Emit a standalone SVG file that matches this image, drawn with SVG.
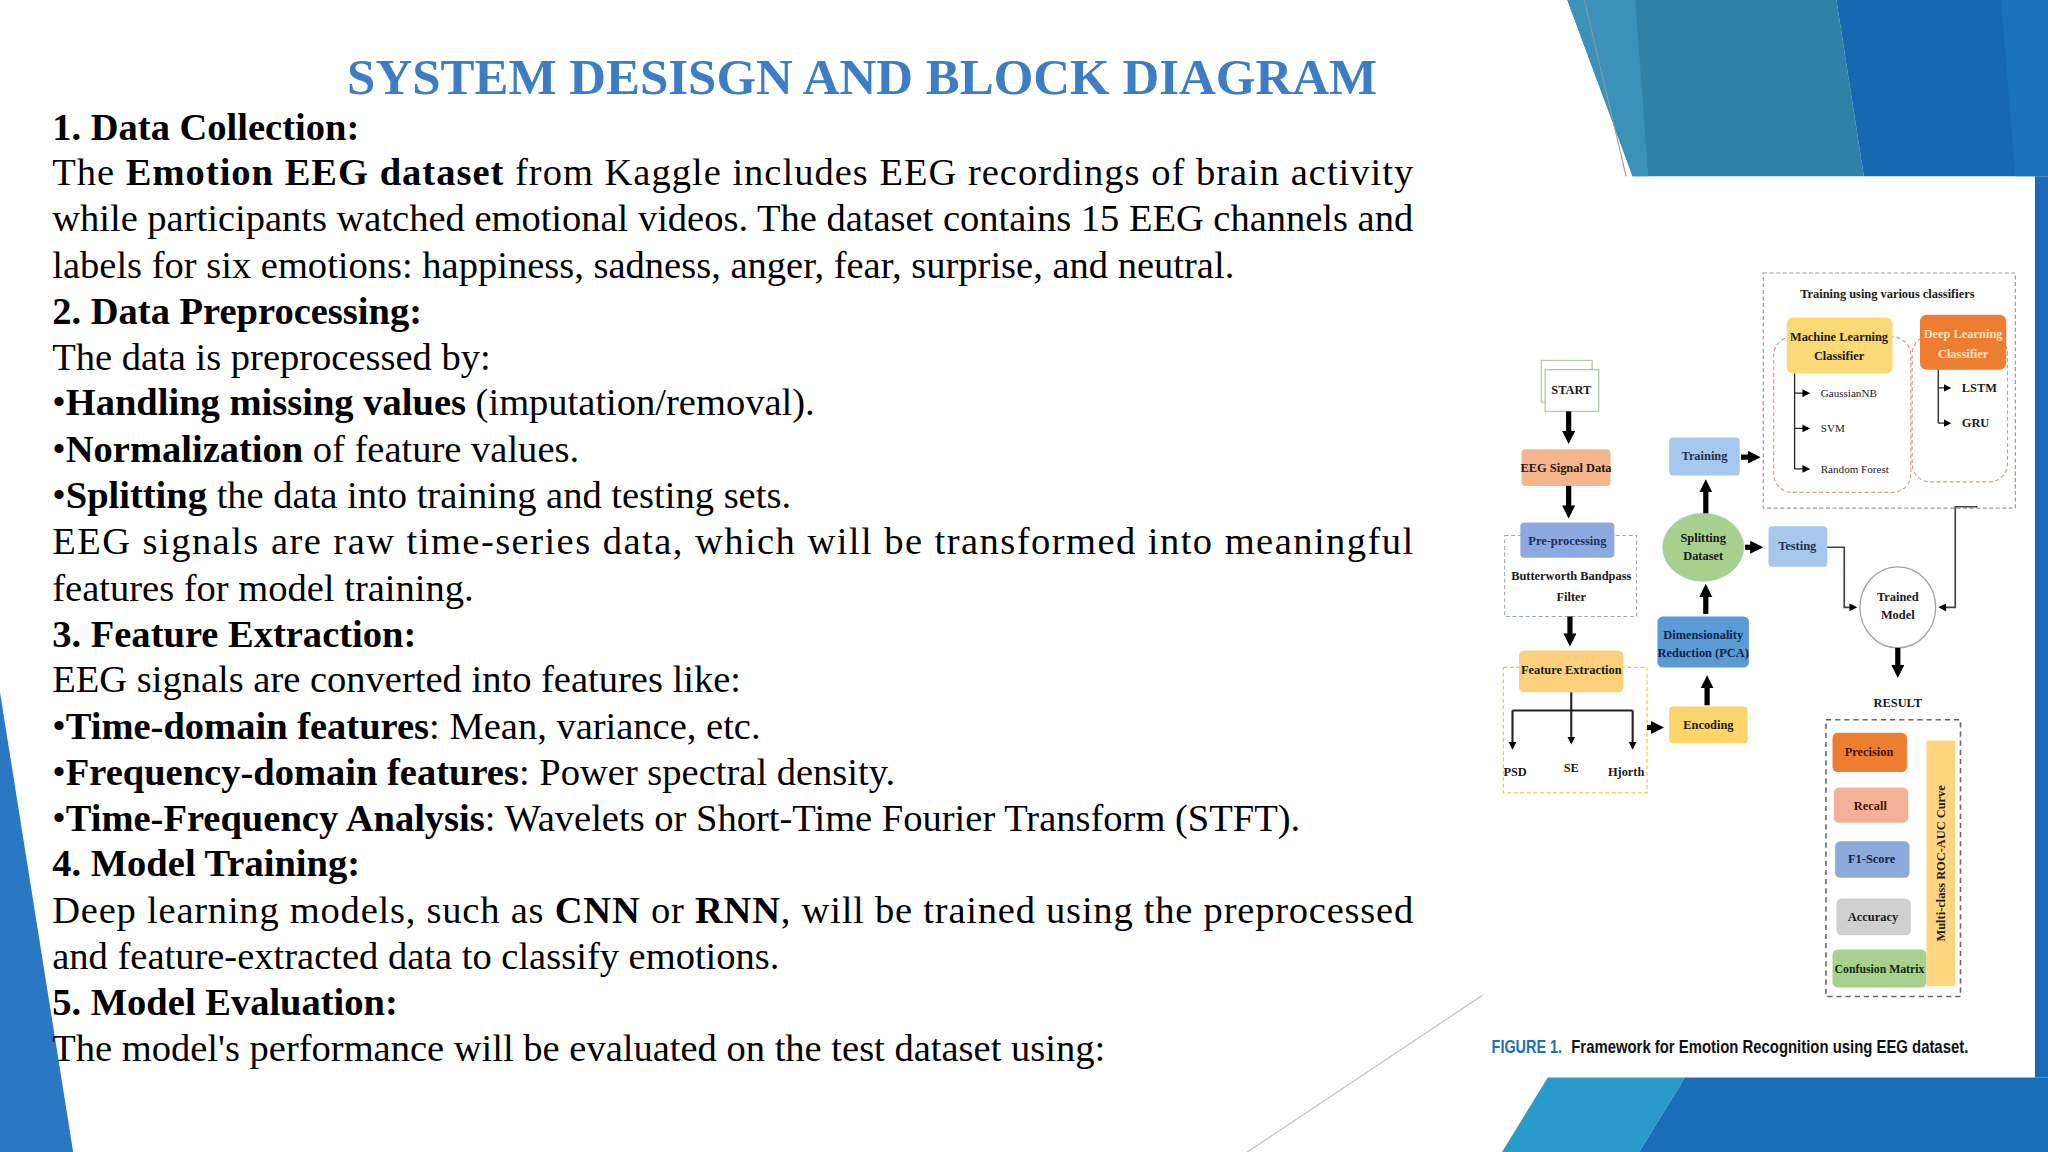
<svg xmlns="http://www.w3.org/2000/svg" width="2048" height="1152" viewBox="0 0 2048 1152">
<style>
.body{font-family:"Liberation Serif",serif;font-size:29.5px;fill:#000}
.b{font-weight:bold}
.d{font-family:"Liberation Serif",serif;font-weight:bold;font-size:9.5px;fill:#1a1a1a;text-anchor:middle}
.dl{font-family:"Liberation Serif",serif;font-size:8.5px;fill:#1a1a1a}
.thick{stroke:#000;stroke-width:4;fill:none}
.thin{stroke:#444;stroke-width:1.3;fill:none}
</style>
<defs>
<marker id="big" markerUnits="userSpaceOnUse" markerWidth="12" markerHeight="12" refX="5" refY="5" orient="auto"><path d="M0,0 L10,5 L0,10 Z" fill="#000"/></marker>
<marker id="sm" markerUnits="userSpaceOnUse" markerWidth="8" markerHeight="8" refX="4" refY="3" orient="auto"><path d="M0,0 L6,3 L0,6 Z" fill="#000"/></marker>
</defs>
<g transform="scale(1.30612)">
<rect width="1568" height="882" fill="#fff"/>
<g id="decor">
<polygon points="1200,0 1406,0 1427,135 1250,135" fill="#2e82a6"/>
<polygon points="1200,0 1252,0 1262,135 1250,135" fill="#3a92b8"/>
<polygon points="1406,0 1568,0 1568,135 1427,135" fill="#1668b0"/>
<polygon points="1532,0 1568,0 1568,135 1543,135" fill="#1d72bc"/>
<line x1="1213" y1="0" x2="1245" y2="135" stroke="#999" stroke-width="0.8"/>
<rect x="1558" y="135" width="10" height="690" fill="#1a6ab8"/>
<polygon points="1185,825 1290,825 1255,882 1150,882" fill="#2a9acb"/>
<polygon points="1290,825 1568,825 1568,882 1255,882" fill="#1a6eb8"/>
<line x1="955" y1="882" x2="1135" y2="762" stroke="#bbb" stroke-width="0.8"/>
<polygon points="0,530 0,882 56,882" fill="#2a77c4"/>
</g>
<text x="660" y="72" text-anchor="middle" font-family="Liberation Serif,serif" font-weight="bold" font-size="39" fill="#3c7dc6">SYSTEM DESISGN AND BLOCK DIAGRAM</text>
<g id="bodytext" class="body">
<text x="40" y="107" class="b">1. Data Collection:</text>
<text x="40" y="142" textLength="1042" lengthAdjust="spacing">The <tspan class="b">Emotion EEG dataset</tspan> from Kaggle includes EEG recordings of brain activity</text>
<text x="40" y="177" textLength="1042" lengthAdjust="spacing">while participants watched emotional videos. The dataset contains 15 EEG channels and</text>
<text x="40" y="213">labels for six emotions: happiness, sadness, anger, fear, surprise, and neutral.</text>
<text x="40" y="248" class="b">2. Data Preprocessing:</text>
<text x="40" y="283">The data is preprocessed by:</text>
<text x="40" y="318">•<tspan class="b">Handling missing values</tspan> (imputation/removal).</text>
<text x="40" y="354">•<tspan class="b">Normalization</tspan> of feature values.</text>
<text x="40" y="389">•<tspan class="b">Splitting</tspan> the data into training and testing sets.</text>
<text x="40" y="424" textLength="1042" lengthAdjust="spacing">EEG signals are raw time-series data, which will be transformed into meaningful</text>
<text x="40" y="460">features for model training.</text>
<text x="40" y="495" class="b">3. Feature Extraction:</text>
<text x="40" y="530">EEG signals are converted into features like:</text>
<text x="40" y="566">•<tspan class="b">Time-domain features</tspan>: Mean, variance, etc.</text>
<text x="40" y="601">•<tspan class="b">Frequency-domain features</tspan>: Power spectral density.</text>
<text x="40" y="636">•<tspan class="b">Time-Frequency Analysis</tspan>: Wavelets or Short-Time Fourier Transform (STFT).</text>
<text x="40" y="671" class="b">4. Model Training:</text>
<text x="40" y="707" textLength="1042" lengthAdjust="spacing">Deep learning models, such as <tspan class="b">CNN</tspan> or <tspan class="b">RNN</tspan>, will be trained using the preprocessed</text>
<text x="40" y="742">and feature-extracted data to classify emotions.</text>
<text x="40" y="777" class="b">5. Model Evaluation:</text>
<text x="40" y="812">The model's performance will be evaluated on the test dataset using:</text>
</g>
<g id="frames" fill="none" stroke-dasharray="3,2">
<rect x="1152" y="410" width="101" height="62" stroke="#9aa" stroke-width="0.8"/>
<rect x="1151" y="511" width="110" height="96" stroke="#e8c84a" stroke-width="0.9"/>
<rect x="1350" y="209" width="193" height="180" stroke="#999" stroke-width="0.9"/>
<rect x="1358" y="258" width="105" height="119" rx="14" stroke="#d89a80" stroke-width="0.9"/>
<rect x="1464" y="257" width="73" height="112" rx="14" stroke="#d89a80" stroke-width="0.9"/>
<rect x="1398" y="551" width="103" height="212" stroke="#666" stroke-width="1.2" stroke-dasharray="4,3"/>
</g>
<text x="1445" y="228" class="d">Training using various classifiers</text>
<g id="start">
<rect x="1180" y="276" width="39" height="32" fill="#fff" stroke="#b5c9a8" stroke-width="1"/>
<rect x="1183" y="283" width="41" height="32" fill="#fff" stroke="#b5c9a8" stroke-width="1"/>
<text x="1203" y="302" class="d">START</text>
</g>
<g id="eeg"><rect x="1165" y="344" width="68" height="28" rx="3" fill="#f6b48c"/><text x="1199" y="361" class="d">EEG Signal Data</text></g>
<g id="pre"><rect x="1164" y="400" width="72" height="27" rx="3" fill="#8ea9e0"/><text x="1200" y="417" class="d" style="fill:#1f2f5f">Pre-processing</text>
<text x="1203" y="444" class="d">Butterworth Bandpass</text><text x="1203" y="460" class="d">Filter</text></g>
<g id="feat"><rect x="1163" y="498" width="80" height="32" rx="4" fill="#fdd07e"/><text x="1203" y="516" class="d">Feature Extraction</text>
<text x="1160" y="594" class="d">PSD</text><text x="1203" y="591" class="d">SE</text><text x="1245" y="594" class="d">Hjorth</text></g>
<g id="enc"><rect x="1278" y="541" width="60" height="28" rx="3" fill="#fdd56a"/><text x="1308" y="558" class="d">Encoding</text></g>
<g id="dim"><rect x="1269" y="472" width="70" height="39" rx="4" fill="#5b9bd5"/><text x="1304" y="489" class="d" style="fill:#10234a">Dimensionality</text><text x="1304" y="503" class="d" style="fill:#10234a">Reduction (PCA)</text></g>
<g id="split"><ellipse cx="1304" cy="419" rx="31" ry="26" fill="#a8d08d" stroke="#9cc" stroke-width="0.6"/><text x="1304" y="415" class="d">Splitting</text><text x="1304" y="429" class="d">Dataset</text></g>
<g id="train"><rect x="1278" y="335" width="54" height="29" rx="3" fill="#a6c8ec"/><text x="1305" y="352" class="d" style="fill:#1f3050">Training</text></g>
<g id="test"><rect x="1354" y="403" width="45" height="31" rx="3" fill="#a6c8ec"/><text x="1376" y="421" class="d" style="fill:#1f3050">Testing</text></g>
<g id="ml"><rect x="1368" y="243" width="81" height="43" rx="5" fill="#fcd977"/><text x="1408" y="261" class="d">Machine Learning</text><text x="1408" y="276" class="d">Classifier</text>
<text x="1394" y="304" class="dl">GaussianNB</text><text x="1394" y="331" class="dl">SVM</text><text x="1394" y="362" class="dl">Random Forest</text></g>
<g id="dl"><rect x="1470" y="241" width="66" height="42" rx="5" fill="#ed7d31"/><text x="1503" y="259" class="d" style="fill:#fde2c4">Deep Learning</text><text x="1503" y="274" class="d" style="fill:#fde2c4">Classifier</text>
<text x="1502" y="300" class="d" style="text-anchor:start">LSTM</text><text x="1502" y="327" class="d" style="text-anchor:start">GRU</text></g>
<g id="trained"><ellipse cx="1453" cy="465" rx="29" ry="31" fill="#fff" stroke="#9a9" stroke-width="1"/><text x="1453" y="460" class="d">Trained</text><text x="1453" y="474" class="d">Model</text></g>
<text x="1453" y="541" class="d">RESULT</text>
<g id="result">
<rect x="1403" y="561" width="57" height="30" rx="4" fill="#ed7d31"/><text x="1431" y="579" class="d" style="fill:#4a1500">Precision</text>
<rect x="1404" y="603" width="57" height="27" rx="4" fill="#f4b19a"/><text x="1432" y="620" class="d" style="fill:#4a1500">Recall</text>
<rect x="1405" y="644" width="57" height="28" rx="4" fill="#8eaadb"/><text x="1433" y="661" class="d" style="fill:#10234a">F1-Score</text>
<rect x="1406" y="688" width="57" height="28" rx="4" fill="#d0d0d0"/><text x="1434" y="705" class="d">Accuracy</text>
<rect x="1403" y="727" width="72" height="29" rx="4" fill="#a9d18e"/><text x="1439" y="745" class="d" style="fill:#0f2d0f;font-size:9px">Confusion Matrix</text>
<rect x="1475" y="567" width="22" height="188" fill="#ffd580"/>
<text x="0" y="0" class="d" transform="translate(1489,661) rotate(-90)">Multi-class ROC-AUC Curve</text>
</g>
<g id="connectors">
<line x1="1201" y1="315" x2="1201" y2="335" class="thick" marker-end="url(#big)"/>
<line x1="1201" y1="372" x2="1201" y2="392" class="thick" marker-end="url(#big)"/>
<line x1="1202" y1="472" x2="1202" y2="490" class="thick" marker-end="url(#big)"/>
<line x1="1261" y1="557" x2="1269" y2="557" class="thick" marker-end="url(#big)"/>
<line x1="1307" y1="540" x2="1307" y2="522" class="thick" marker-end="url(#big)"/>
<line x1="1306" y1="470" x2="1306" y2="452" class="thick" marker-end="url(#big)"/>
<line x1="1306" y1="393" x2="1306" y2="372" class="thick" marker-end="url(#big)"/>
<line x1="1333" y1="350" x2="1343" y2="350" class="thick" marker-end="url(#big)"/>
<line x1="1336" y1="419" x2="1345" y2="419" class="thick" marker-end="url(#big)"/>
<line x1="1453" y1="496" x2="1453" y2="514" class="thick" marker-end="url(#big)"/>
<path d="M1399,419 H1412 V465 H1420" class="thin" marker-end="url(#sm)"/>
<path d="M1514,388 H1497 V465 H1486" class="thin" marker-end="url(#sm)"/>
<path d="M1203,530 V544 M1158,544 H1250" stroke="#222" stroke-width="1.6" fill="none"/>
<line x1="1158" y1="544" x2="1158" y2="572" stroke="#222" stroke-width="1.6" marker-end="url(#sm)"/>
<line x1="1203" y1="544" x2="1203" y2="568" stroke="#222" stroke-width="1.6" marker-end="url(#sm)"/>
<line x1="1250" y1="544" x2="1250" y2="572" stroke="#222" stroke-width="1.6" marker-end="url(#sm)"/>
<path d="M1374,286 V359 M1374,301 H1383 M1374,328 H1383 M1374,359 H1383" stroke="#222" stroke-width="1" fill="none"/>
<line x1="1383" y1="301" x2="1384" y2="301" stroke="#222" marker-end="url(#sm)"/>
<line x1="1383" y1="328" x2="1384" y2="328" stroke="#222" marker-end="url(#sm)"/>
<line x1="1383" y1="359" x2="1384" y2="359" stroke="#222" marker-end="url(#sm)"/>
<path d="M1484,283 V324 M1484,297 H1491 M1484,324 H1491" stroke="#222" stroke-width="1" fill="none"/>
<line x1="1491" y1="297" x2="1492" y2="297" stroke="#222" marker-end="url(#sm)"/>
<line x1="1491" y1="324" x2="1492" y2="324" stroke="#222" marker-end="url(#sm)"/>
</g>
<g id="caption" font-family="Liberation Sans,sans-serif" font-weight="bold" font-size="14">
<text x="1142" y="806" fill="#1f6fb2" textLength="54" lengthAdjust="spacingAndGlyphs">FIGURE 1.</text>
<text x="1203" y="806" fill="#111" textLength="304" lengthAdjust="spacingAndGlyphs">Framework for Emotion Recognition using EEG dataset.</text>
</g>
</g>
</svg>
